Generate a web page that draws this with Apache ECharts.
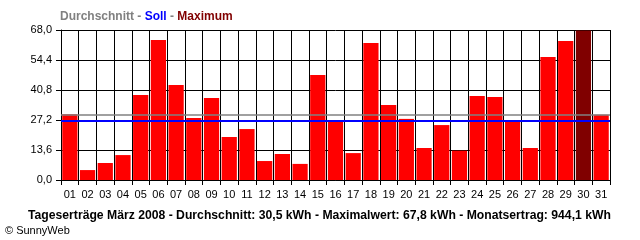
<!DOCTYPE html>
<html>
<head>
<meta charset="utf-8">
<script src="https://cdn.jsdelivr.net/npm/echarts@6/dist/echarts.min.js"></script>
<style>html,body{margin:0;padding:0;background:#fff}#c{width:640px;height:240px}</style>
</head>
<body>
<div id="c"></div>
<script>
const days = ['01','02','03','04','05','06','07','08','09','10','11','12','13','14','15','16','17','18','19','20','21','22','23','24','25','26','27','28','29','30','31'];
const dailyYield = [29.8,4.5,7.7,11.3,38.5,63.5,43.1,28.1,37.2,19.5,23.1,8.6,11.8,7.3,47.6,26.7,12.2,62.1,34.0,27.7,14.5,24.9,13.3,38.1,37.6,26.9,14.5,55.8,63.0,67.8,29.6];
const averageLine = 29.8;
const targetLine = 27.0;
const yTickLabels = ['0,0','13,6','27,2','40,8','54,4','68,0'];
const legendText = ['Durchschnitt', 'Soll', 'Maximum'];
const footerText = 'Tageserträge März 2008 - Durchschnitt: 30,5 kWh - Maximalwert: 67,8 kWh - Monatsertrag: 944,1 kWh';
const creditText = '© SunnyWeb';

const maxVal = Math.max(...dailyYield);
const chart = echarts.init(document.getElementById('c'), null, {renderer: 'canvas'});
chart.setOption({
  backgroundColor: '#ffffff',
  animation: false,
  title: [
    {
      text: '{g|' + legendText[0] + ' - }{b|' + legendText[1] + '}{g| - }{m|' + legendText[2] + '}',
      left: 55, top: 6,
      textStyle: {
        rich: {
          g: {color: '#808080', fontWeight: 'bold', fontSize: 12, fontFamily: 'Liberation Sans'},
          b: {color: '#0000ff', fontWeight: 'bold', fontSize: 12, fontFamily: 'Liberation Sans'},
          m: {color: '#800000', fontWeight: 'bold', fontSize: 12, fontFamily: 'Liberation Sans'}
        }
      }
    },
    {
      text: footerText,
      left: 23, top: 205,
      textStyle: {color: '#000', fontWeight: 'bold', fontSize: 12.2, fontFamily: 'Liberation Sans'}
    },
    {
      text: creditText,
      left: 0, top: 220,
      textStyle: {color: '#000', fontWeight: 'normal', fontSize: 11, fontFamily: 'Liberation Sans'}
    }
  ],
  grid: {left: 61, right: 30, top: 30, bottom: 60, containLabel: false},
  xAxis: {
    type: 'category',
    data: days,
    boundaryGap: true,
    axisLine: {lineStyle: {color: '#000', width: 1}},
    axisTick: {show: true, length: 5, lineStyle: {color: '#000'}, alignWithLabel: false},
    axisLabel: {color: '#000', fontSize: 11, fontFamily: 'Liberation Sans', margin: 9, interval: 0},
    splitLine: {show: true, lineStyle: {color: '#000', width: 1}}
  },
  yAxis: {
    type: 'value',
    min: 0, max: 68, interval: 13.6,
    axisLine: {show: true, lineStyle: {color: '#000', width: 1}},
    axisTick: {show: true, length: 5, lineStyle: {color: '#000'}},
    axisLabel: {
      color: '#000', fontSize: 11, fontFamily: 'Liberation Sans', margin: 9,
      formatter: function (v) { return yTickLabels[Math.round(v / 13.6)]; }
    },
    splitLine: {show: true, lineStyle: {color: '#000', width: 1}}
  },
  series: [{
    type: 'bar',
    data: dailyYield.map(v => ({value: v, itemStyle: {color: v === maxVal ? '#800000' : '#ff0000'}})),
    barCategoryGap: '14%',
    z: 3,
    markLine: {
      silent: true,
      symbol: 'none',
      label: {show: false},
      z: 5,
      data: [
        {yAxis: averageLine, lineStyle: {color: '#808080', width: 1.5, type: 'solid'}},
        {yAxis: targetLine, lineStyle: {color: '#0000ff', width: 2, type: 'solid'}}
      ]
    }
  }]
});
</script>
</body>
</html>
